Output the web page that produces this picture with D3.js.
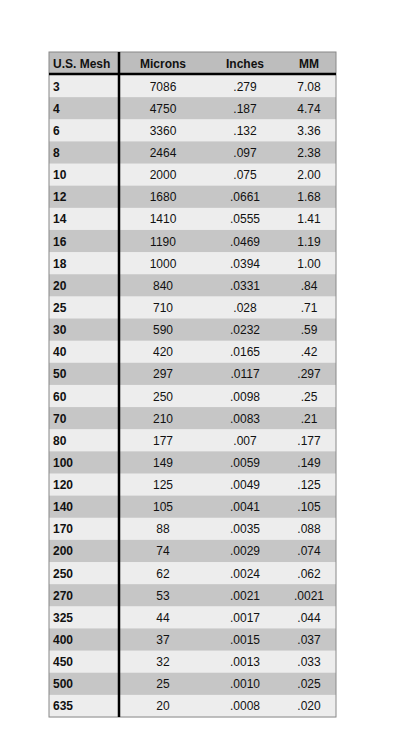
<!DOCTYPE html><html><head><meta charset="utf-8"><script src="https://cdn.jsdelivr.net/npm/d3@7"></script>
<style>body{margin:0;background:#fff}</style></head><body><svg id="c" width="400" height="742"></svg>
<script>
const headers=["U.S. Mesh","Microns","Inches","MM"];
const mesh=["3","4","6","8","10","12","14","16","18","20","25","30","40","50","60","70","80","100","120","140","170","200","250","270","325","400","450","500","635"];
const microns=["7086","4750","3360","2464","2000","1680","1410","1190","1000","840","710","590","420","297","250","210","177","149","125","105","88","74","62","53","44","37","32","25","20"];
const inches=[".279",".187",".132",".097",".075",".0661",".0555",".0469",".0394",".0331",".028",".0232",".0165",".0117",".0098",".0083",".007",".0059",".0049",".0041",".0035",".0029",".0024",".0021",".0017",".0015",".0013",".0010",".0008"];
const mm=["7.08","4.74","3.36","2.38","2.00","1.68","1.41","1.19","1.00",".84",".71",".59",".42",".297",".25",".21",".177",".149",".125",".105",".088",".074",".062",".0021",".044",".037",".033",".025",".020"];
const svg=d3.select("#c");
const L=49,R=336,T=52,HB=74,B=717;
const y=d3.scaleBand().domain(d3.range(mesh.length)).range([HB+1,B]);
svg.append("rect").attr("x",L).attr("y",T).attr("width",R-L).attr("height",HB-T).attr("fill","#bdbdbd");
svg.selectAll("rect.row").data(mesh).join("rect").attr("class","row").attr("x",L).attr("y",(d,i)=>y(i)).attr("width",R-L).attr("height",y.bandwidth()+0.5).attr("fill",(d,i)=>i%2?"#c6c6c6":"#ededed");
svg.append("rect").attr("x",L).attr("y",T).attr("width",R-L).attr("height",B-T).attr("fill","none").attr("stroke","#888").attr("stroke-width",1);
svg.append("line").attr("x1",L).attr("x2",R).attr("y1",HB).attr("y2",HB).attr("stroke","#000").attr("stroke-width",2.5);
svg.append("line").attr("x1",119).attr("x2",119).attr("y1",T).attr("y2",B).attr("stroke","#000").attr("stroke-width",2.5);
const f="Liberation Sans, Arial, sans-serif";
const hx=[53,163,245,309],anc=["start","middle","middle","middle"];
headers.forEach((h,i)=>svg.append("text").attr("x",hx[i]).attr("y",(T+HB)/2+4.5).attr("text-anchor",anc[i]).attr("font-family",f).attr("font-size",12).attr("font-weight","bold").attr("fill","#111").text(h));
const cols=[mesh,microns,inches,mm];
cols.forEach((col,ci)=>svg.selectAll("text.c"+ci).data(col).join("text").attr("x",hx[ci]).attr("y",(d,i)=>y(i)+y.bandwidth()/2+4.5).attr("text-anchor",anc[ci]).attr("font-family",f).attr("font-size",12).attr("font-weight",ci==0?"bold":"normal").attr("fill","#111").text(d=>d));
</script></body></html>
